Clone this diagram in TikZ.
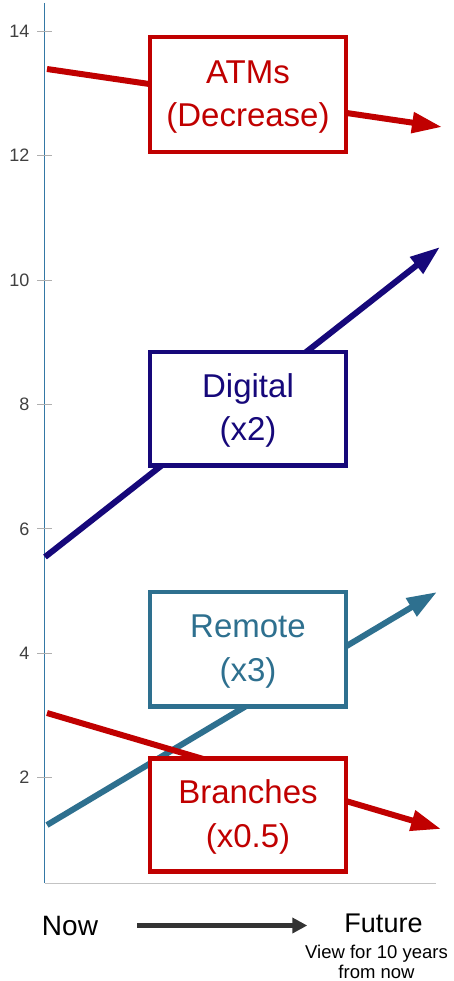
\documentclass[tikz,border=0pt]{standalone}
\usepackage{fontspec}
\setmainfont{Liberation Sans}
\usetikzlibrary{arrows.meta}

\definecolor{atmred}{RGB}{192,0,0}
\definecolor{digitalnavy}{RGB}{22,8,122}
\definecolor{remoteteal}{RGB}{46,112,143}
\definecolor{axisblue}{RGB}{52,120,165}
\definecolor{tickgray}{RGB}{175,175,175}
\definecolor{baseaxis}{RGB}{195,195,195}
\definecolor{labelgray}{RGB}{64,64,64}
\definecolor{timegray}{RGB}{51,51,51}

% strut that fixes the height of the first text line in a box
\newcommand{\firstlinestrut}{\rule{0pt}{28pt}}

\begin{document}
\begin{tikzpicture}[x=1pt,y=-1pt,
  trend/.style={line width=6pt, -{Triangle[length=30pt,width=20pt]}},
  box/.style={draw, line width=4.5pt, fill=white, minimum width=196pt,
    minimum height=115pt, inner sep=0pt, align=center,
    font=\fontsize{33}{43.5}\selectfont},
  ticklabel/.style={anchor=east, text=labelgray, inner sep=0pt,
    font=\fontsize{18}{18}\selectfont},
  timearrow/.style={timegray, line width=5pt, -{Triangle[length=15pt,width=15pt]}},
]
\useasboundingbox (0,0) rectangle (454,981);

% axes
\draw[baseaxis, line width=1pt] (44.5,883) -- (436,883);
\draw[axisblue, line width=1pt] (44.5,3) -- (44.5,883);
\foreach \v [evaluate=\v as \ty using 902-62.2*\v] in {2,4,...,14}{
  \draw[tickgray, line width=0.9pt] (37,\ty) -- (52,\ty);
  \node[ticklabel] (tick\v) at (29.5,\ty) {\v};
}

% trend lines
\coordinate (atm0) at (47,69);   \coordinate (atm1) at (442,127);
\coordinate (dig0) at (45,557);  \coordinate (dig1) at (440,247);
\coordinate (rem0) at (47,825);  \coordinate (rem1) at (437,592);
\coordinate (bra0) at (47,713);  \coordinate (bra1) at (441,829);

\draw[trend, atmred] (atm0) -- (atm1);
\draw[trend, digitalnavy] (dig0) -- (dig1);
\draw[trend, remoteteal] (rem0) -- (rem1);
\draw[trend, atmred] (bra0) -- (bra1);

% channel boxes
\node[box, draw=atmred, text=atmred] (atms) at (248,94.5)
  {\firstlinestrut ATMs\\(Decrease)};
\node[box, draw=digitalnavy, text=digitalnavy, minimum height=113.5pt] (digital) at (248,408.5)
  {\firstlinestrut Digital\\(x2)};
\node[box, draw=remoteteal, text=remoteteal, minimum height=114.5pt] (remote) at (248,649)
  {\firstlinestrut Remote\\(x3)};
\node[box, draw=atmred, text=atmred, minimum height=113pt] (branches) at (248,815)
  {\firstlinestrut Branches\\(x0.5)};

% time direction
\node[anchor=base, inner sep=0pt, font=\fontsize{28}{28}\selectfont] (now) at (70,935) {Now};
\node[anchor=base, inner sep=0pt, font=\fontsize{27}{27}\selectfont] (future) at (383.5,932) {Future};
\node[anchor=north, inner sep=0pt, align=center, font=\fontsize{18.5}{20}\selectfont] (horizon) at (376.5,944.5)
  {View for 10 years\\from now};
\draw[timearrow] ([xshift=39pt]now.east) -- ([xshift=-37pt]now.east -| future.west);
\end{tikzpicture}
\end{document}
